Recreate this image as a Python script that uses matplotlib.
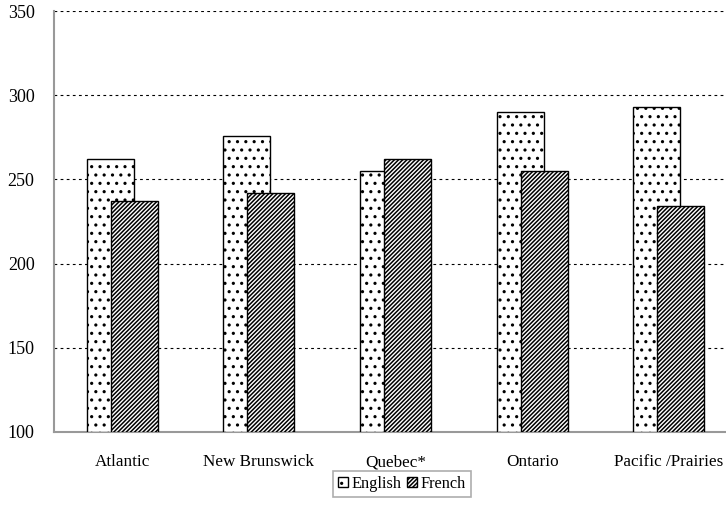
import numpy as np
import matplotlib.pyplot as plt

# mean scores by region and language group
regions = ['Atlantic', 'New Brunswick', 'Quebec*', 'Ontario', 'Pacific /Prairies']
english = [262, 276, 255, 290, 293]
french = [237, 242, 262, 255, 234]
yticks = [100, 150, 200, 250, 300, 350]

plt.rcParams['font.family'] = ['Liberation Serif', 'DejaVu Serif']
plt.rcParams['hatch.linewidth'] = 1.1

fig = plt.figure(figsize=(7.26, 5.23), dpi=100)
ax = fig.add_axes([54 / 726, 91 / 523, 683 / 726, 421 / 523])

x = np.arange(len(regions))
w = 0.345
off = 0.088

ax.bar(x - off, np.array(english) - 100, w, bottom=100, color='white',
       edgecolor='black', linewidth=1.0, hatch='..', label='English', zorder=3)
ax.bar(x + off, np.array(french) - 100, w, bottom=100, color='white',
       edgecolor='black', linewidth=1.0, hatch='////////', label='French', zorder=4)

ax.set_xlim(-0.5, len(regions) - 0.5)
ax.set_ylim(100, 350)
ax.set_yticks(yticks)
ax.set_xticks(x)
ax.set_xticklabels(regions, fontsize=12.3)
ax.tick_params(axis='y', labelsize=13)
ax.tick_params(axis='both', length=0)
ax.tick_params(axis='x', pad=16)
ax.tick_params(axis='y', pad=14)
ax.yaxis.grid(True, linestyle=(0, (2.5, 3)), color='black', linewidth=0.8)
ax.set_axisbelow(True)

for s in ['top', 'right']:
    ax.spines[s].set_visible(False)
for s in ['left', 'bottom']:
    ax.spines[s].set_color('#999999')
    ax.spines[s].set_linewidth(1.5)

leg = fig.legend(loc='center', bbox_to_anchor=(402 / 726, 1 - 484 / 523),
                 ncol=2, fontsize=11.8, frameon=True, fancybox=False,
                 handlelength=0.6, handleheight=0.6, handletextpad=0.25,
                 columnspacing=0.3, borderpad=0.3, borderaxespad=0)
leg.get_frame().set_edgecolor('#999999')
leg.get_frame().set_linewidth(1.2)

plt.savefig('out.png', dpi=100)
